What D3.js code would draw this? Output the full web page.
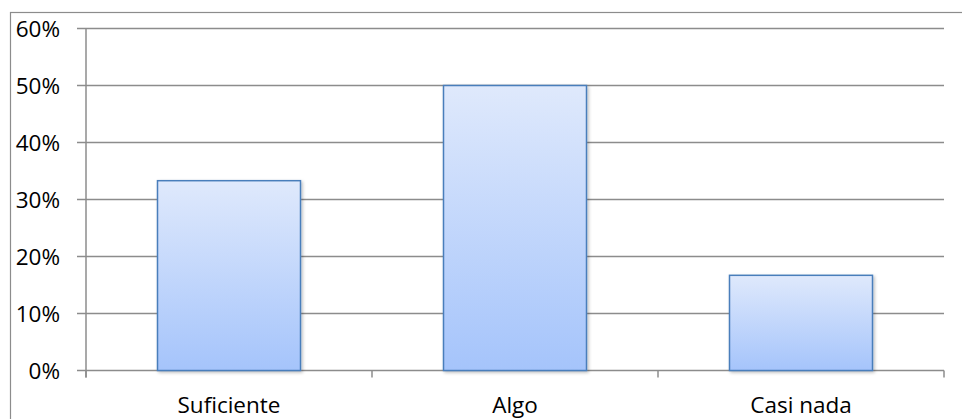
<!DOCTYPE html>
<meta charset="utf-8">
<style>
  body { margin: 0; background: #fff; }
  text { font-family: "Open Sans", sans-serif; fill: #000; }
</style>
<body>
<script src="https://d3js.org/d3.v7.min.js"></script>
<div id="my_dataviz"></div>
<script>

    // data
    var categories = ["Suficiente", "Algo", "Casi nada"];
    var values = [0.333, 0.50, 0.167];
    var yTicks = [0, 0.1, 0.2, 0.3, 0.4, 0.5, 0.6];

    var W = 962, H = 419;
    var margin = {top: 28.5, right: 18, bottom: 48.5, left: 86},
        width = W - margin.left - margin.right,
        height = H - margin.top - margin.bottom;

    var root = d3.select("#my_dataviz")
        .append("svg")
            .attr("width", W)
            .attr("height", H);

    // outer chart frame
    root.append("rect")
        .attr("x", 10.5).attr("y", 12.5)
        .attr("width", W).attr("height", H)
        .attr("fill", "none")
        .attr("stroke", "#8c8c8c")
        .attr("stroke-width", 1.2);

    var defs = root.append("defs");
    var grad = defs.append("linearGradient")
        .attr("id", "barGrad")
        .attr("x1", 0).attr("y1", 0).attr("x2", 0).attr("y2", 1);
    grad.append("stop").attr("offset", "0%").attr("stop-color", "#dfe9fc");
    grad.append("stop").attr("offset", "100%").attr("stop-color", "#a5c4fb");

    var shadow = defs.append("filter").attr("id", "shadow")
        .attr("x", "-10%").attr("y", "-10%").attr("width", "130%").attr("height", "130%");
    shadow.append("feDropShadow")
        .attr("dx", 1.5).attr("dy", 1.5).attr("stdDeviation", 1.5)
        .attr("flood-color", "#000").attr("flood-opacity", 0.25);

    var svg = root.append("g")
        .attr("transform", "translate(" + margin.left + "," + margin.top + ")");

    // X scale
    var x = d3.scaleBand()
      .range([0, width])
      .domain(categories)
      .paddingInner(0.5)
      .paddingOuter(0.25);

    // Y scale
    var y = d3.scaleLinear()
      .domain([0, 0.6])
      .range([height, 0]);

    // gridlines
    svg.selectAll(".grid")
      .data(yTicks)
      .enter()
      .append("line")
        .attr("x1", -9).attr("x2", width)
        .attr("y1", function(d) { return y(d); })
        .attr("y2", function(d) { return y(d); })
        .attr("stroke", "#8c8c8c")
        .attr("stroke-width", 1.5);

    // y axis line
    svg.append("line")
        .attr("x1", 0).attr("x2", 0)
        .attr("y1", 0).attr("y2", height + 7)
        .attr("stroke", "#8c8c8c")
        .attr("stroke-width", 1.5);

    // y labels
    svg.selectAll(".ylab")
      .data(yTicks)
      .enter()
      .append("text")
        .attr("x", -26)
        .attr("y", function(d) { return y(d); })
        .attr("dy", "0.36em")
        .attr("text-anchor", "end")
        .style("font-size", "22.5px")
        .text(d3.format(".0%"));

    // category boundary ticks
    var step = x.step();
    svg.selectAll(".xtick")
      .data(d3.range(categories.length + 1))
      .enter()
      .append("line")
        .attr("x1", function(i) { return i * step; })
        .attr("x2", function(i) { return i * step; })
        .attr("y1", height).attr("y2", height + 7)
        .attr("stroke", "#8c8c8c")
        .attr("stroke-width", 1.5);

    // bars
    svg.selectAll("mybar")
      .data(values)
      .enter()
      .append("rect")
        .attr("x", function(d, i) { return x(categories[i]); })
        .attr("width", x.bandwidth())
        .attr("y", function(d) { return y(d); })
        .attr("height", function(d) { return height - y(d); })
        .attr("fill", "url(#barGrad)")
        .attr("stroke", "#4a7ebb")
        .attr("stroke-width", 1.5)
        .attr("filter", "url(#shadow)");

    // category labels
    svg.selectAll(".xlab")
      .data(categories)
      .enter()
      .append("text")
        .attr("x", function(d) { return x(d) + x.bandwidth() / 2; })
        .attr("y", height + 42)
        .attr("text-anchor", "middle")
        .style("font-size", "22.5px")
        .text(function(d) { return d; });

</script>
</body>
